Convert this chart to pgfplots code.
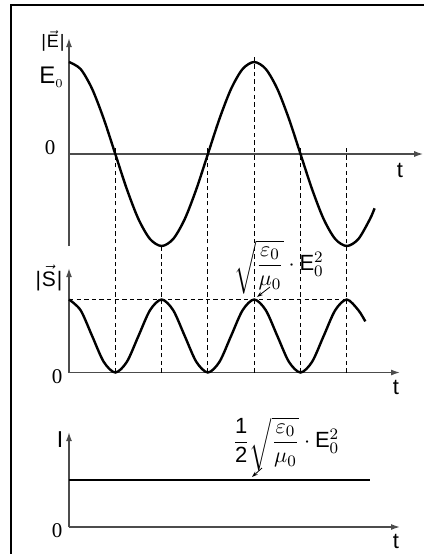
\documentclass[border=0pt]{standalone}
\usepackage{amsmath}
\usepackage{pgfplots}
\pgfplotsset{compat=1.18}
\usetikzlibrary{arrows.meta}
\usepackage{fontspec}
\setmainfont{Liberation Sans}
\newfontfamily\serif{Liberation Serif}

\pgfplotsset{
  wave/.style={
    scale only axis, anchor=origin, axis lines=middle,
    x=23.15pt, xmin=0, enlargelimits=false,
    xtick=\empty, ytick=\empty, clip=false,
    axis line style={black!70, line width=0.7pt, -{Latex[length=4.5pt,width=3pt]}},
  },
  curve/.style={black, line width=1.2pt, smooth, no marks},
  guide/.style={black, line width=0.5pt, dash pattern=on 2.2pt off 1.6pt, no marks},
}

\begin{document}
\begin{tikzpicture}
% field strength
\begin{axis}[wave, at={(34.5pt,-77pt)}, y=46pt, xmax=7.65, ymin=-1, ymax=1.26]
\addplot[curve] coordinates {
  (0,1) (0.25,0.9239) (0.5,0.7071) (0.75,0.3827) (1,0)
  (1.25,-0.3827) (1.5,-0.7071) (1.75,-0.9239) (2,-1)
  (2.25,-0.9239) (2.5,-0.7071) (2.75,-0.3827) (3,0)
  (3.25,0.3827) (3.5,0.7071) (3.75,0.9239) (4,1)
  (4.25,0.9239) (4.5,0.7071) (4.75,0.3827) (5,0)
  (5.25,-0.3827) (5.5,-0.7071) (5.75,-0.9239) (6,-1)
  (6.25,-0.9239) (6.5,-0.7071) (6.6,-0.59)
};
\end{axis}
% Poynting vector
\begin{axis}[wave, at={(34.5pt,-186.25pt)}, y=36.5pt, xmax=7.15, ymin=0, ymax=1.43]
\addplot[guide] coordinates {(0,1) (6,1)};
\addplot[guide] coordinates {(1,0) (1,3.09)};
\addplot[guide] coordinates {(2,0) (2,1.75)};
\addplot[guide] coordinates {(3,0) (3,3.09)};
\addplot[guide] coordinates {(4,0) (4,4.32)};
\addplot[guide] coordinates {(5,0) (5,3.09)};
\addplot[guide] coordinates {(6,0) (6,3.09)};
\addplot[curve] coordinates {
  (0,1) (0.25,0.8536) (0.5,0.5) (0.75,0.1464) (1,0)
  (1.25,0.1464) (1.5,0.5) (1.75,0.8536) (2,1)
  (2.25,0.8536) (2.5,0.5) (2.75,0.1464) (3,0)
  (3.25,0.1464) (3.5,0.5) (3.75,0.8536) (4,1)
  (4.25,0.8536) (4.5,0.5) (4.75,0.1464) (5,0)
  (5.25,0.1464) (5.5,0.5) (5.75,0.8536) (6,1)
  (6.25,0.8536) (6.4,0.7)
};
\end{axis}
% intensity
\begin{axis}[wave, at={(34.5pt,-263.5pt)}, y=23.5pt, xmax=7.15, ymin=0, ymax=2.02]
\addplot[black, line width=1.2pt, no marks] coordinates {(0,1) (6.5,1)};
\end{axis}

\begin{scope}[x=0.5pt, y=-0.5pt]
  \draw[line width=1pt] (11,560) -- (11,5) -- (430,5);
  % top panel labels
  \node[font=\fontsize{9}{10}\selectfont, inner sep=0pt] at (53,41) {|\kern0.5pt$\vec{\hbox{E}}$\kern0.5pt|};
  \node[font=\fontsize{12}{13}\selectfont, anchor=east, inner sep=0pt] at (64,77) {E$_{\scriptscriptstyle 0}$};
  \node[font=\fontsize{10.5}{11}\serif] at (50,148) {0};
  \node[font=\fontsize{11}{12}\selectfont] at (400,170) {t};
  % middle panel labels
  \node[font=\fontsize{10.5}{12}\selectfont, inner sep=0pt] at (49,278) {|\kern0.5pt$\vec{\hbox{S}}$\kern0.5pt|};
  \node[font=\fontsize{10.5}{11}\serif] at (57,377) {0};
  \node[font=\fontsize{11}{12}\selectfont] at (396,387) {t};
  \node[font=\fontsize{11}{12}\selectfont] at (279,267)
    {$\sqrt{\dfrac{\varepsilon_0}{\mu_0}}\cdot\hbox{E}_0^2$};
  \draw[line width=0.4pt, -{Stealth[length=3pt,width=2pt]}] (270,287) -- (257,297);
  % bottom panel labels
  \node[font=\fontsize{11.5}{12}\selectfont] at (60,440) {I};
  \node[font=\fontsize{10.5}{11}\serif] at (57,531) {0};
  \node[font=\fontsize{11}{12}\selectfont] at (396,541) {t};
  \node[font=\fontsize{11}{12}\selectfont] at (286,444)
    {$\dfrac{\hbox{1}}{\hbox{2}}\sqrt{\dfrac{\varepsilon_0}{\mu_0}}\cdot\hbox{E}_0^2$};
  \draw[line width=0.4pt, -{Stealth[length=3pt,width=2pt]}] (262,468) -- (252,477);
\end{scope}
\pgfresetboundingbox
\useasboundingbox (0,0) rectangle (212pt,-277pt);
\end{tikzpicture}
\end{document}
